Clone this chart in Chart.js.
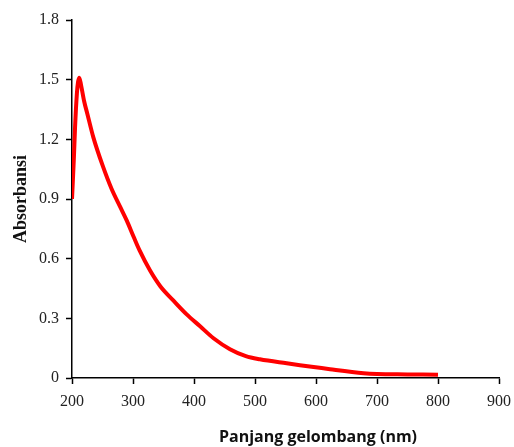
<!DOCTYPE html>
<html>
<head>
<meta charset="utf-8">
<script src="https://cdn.jsdelivr.net/npm/chart.js@4"></script>
<style>
  html, body { margin: 0; padding: 0; background: #fff; }
  #wrap { width: 514px; height: 447px; position: relative; }
</style>
</head>
<body>
<div id="wrap"><canvas id="chart"></canvas></div>
<script>
// panjang gelombang (nm) dan absorbansi
var wavelength = [200, 203, 205, 208, 210, 212, 215, 220, 225, 235, 250, 265, 279, 290, 301, 311, 328, 345, 366, 388, 410, 432, 459, 485, 508, 552, 623, 678, 700, 750, 800];
var absorbance = [0.90, 1.10, 1.26, 1.43, 1.49, 1.51, 1.47, 1.39, 1.33, 1.21, 1.07, 0.95, 0.86, 0.79, 0.71, 0.64, 0.54, 0.46, 0.39, 0.32, 0.26, 0.20, 0.145, 0.11, 0.094, 0.074, 0.044, 0.024, 0.02, 0.018, 0.016];

var xTicks = [200, 300, 400, 500, 600, 700, 800, 900];
var yTicks = [0, 0.3, 0.6, 0.9, 1.2, 1.5, 1.8];

var points = wavelength.map(function(w, i) { return { x: w, y: absorbance[i] }; });

// judul sumbu x digambar sendiri supaya bisa digeser ke kanan seperti aslinya
var xTitlePlugin = {
    id: 'xTitle',
    afterDraw: function(chart) {
        var ctx = chart.ctx;
        ctx.save();
        ctx.font = 'bold 16px "Open Sans", "Liberation Sans", sans-serif';
        ctx.fillStyle = '#111';
        ctx.textAlign = 'center';
        ctx.textBaseline = 'alphabetic';
        ctx.fillText('Panjang gelombang (nm)', 318, 442);
        ctx.restore();
    }
};

new Chart(document.getElementById('chart'), {
    type: 'line',
    data: {
        datasets: [{
            data: points,
            borderColor: '#ff0000',
            borderWidth: 4,
            pointRadius: 0,
            fill: false,
            cubicInterpolationMode: 'monotone'
        }]
    },
    options: {
        responsive: true,
        maintainAspectRatio: false,
        animation: false,
        layout: { padding: { top: 20, right: 15, left: 6, bottom: 0 } },
        plugins: { legend: { display: false }, tooltip: { enabled: false } },
        scales: {
            x: {
                type: 'linear',
                min: 200,
                max: 900,
                afterBuildTicks: function(s) { s.ticks = xTicks.map(function(v) { return { value: v }; }); },
                afterFit: function(s) { s.height = 69; s.paddingRight = 0; s.paddingLeft = 0; },
                border: { color: '#000', width: 1.5 },
                grid: { drawOnChartArea: false, color: '#000', tickLength: 6, tickWidth: 1.5 },
                ticks: {
                    color: '#222',
                    padding: 8,
                    maxRotation: 0,
                    font: { family: '"Liberation Serif", serif', size: 16 }
                }
            },
            y: {
                min: 0,
                max: 1.8,
                afterBuildTicks: function(s) { s.ticks = yTicks.map(function(v) { return { value: v }; }); },
                afterFit: function(s) { s.width = 66; },
                border: { color: '#000', width: 1.5 },
                grid: { drawOnChartArea: false, color: '#000', tickLength: 6, tickWidth: 1.5 },
                ticks: {
                    color: '#222',
                    padding: 7,
                    font: { family: '"Liberation Serif", serif', size: 16 },
                    callback: function(v) { return v === 0 ? '0' : v.toFixed(1); }
                },
                title: {
                    display: true,
                    text: 'Absorbansi',
                    color: '#111',
                    padding: { top: 5, bottom: 4 },
                    font: { family: '"Liberation Serif", serif', size: 18, weight: 'bold' }
                }
            }
        }
    },
    plugins: [xTitlePlugin]
});
</script>
</body>
</html>
